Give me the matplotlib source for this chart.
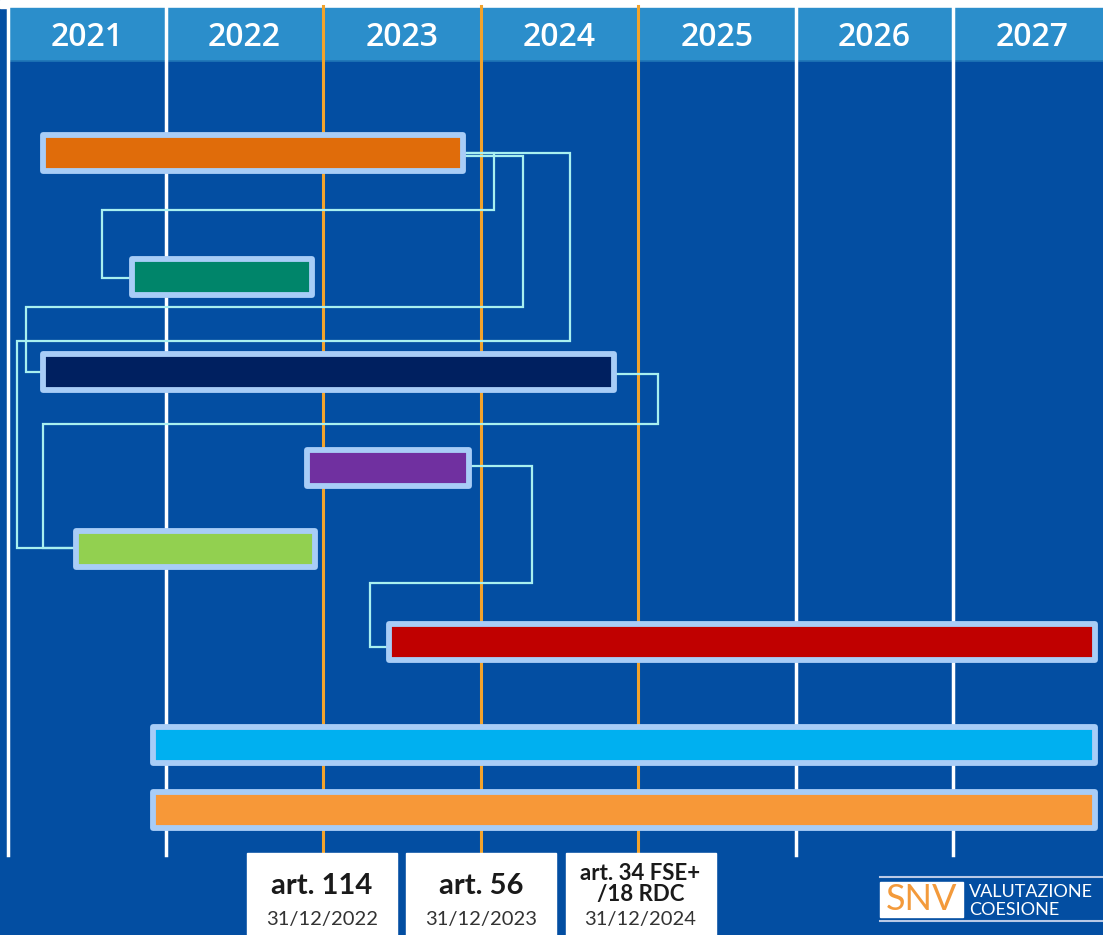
import matplotlib
matplotlib.use("Agg")
import matplotlib.pyplot as plt
from matplotlib.patches import Rectangle

# timeline data
years = [2021, 2022, 2023, 2024, 2025, 2026, 2027]
bar_start = [2021.22, 2021.79, 2021.22, 2022.90, 2021.43, 2023.42, 2021.92, 2021.92]
bar_end = [2023.89, 2022.93, 2024.85, 2023.93, 2022.95, 2027.90, 2027.90, 2027.90]
bar_colors = ["#E06C0A", "#00856A", "#002060", "#7030A0", "#92D050", "#C00000", "#00B0F0", "#F79838"]
links = [(0, 1), (0, 2), (0, 4), (2, 4), (3, 5)]
deadlines = [2023, 2024, 2025]
deadline_titles = ["art. 114", "art. 56", "art. 34 FSE+\n/18 RDC"]
deadline_dates = ["31/12/2022", "31/12/2023", "31/12/2024"]

# layout (pixels from top, year offsets)
row_y = [153, 277, 372, 468, 549, 642, 745, 810]
bar_h = 36
link_out = [0.194, 0.378, 0.676, 0.276, 0.397]
link_in = [-0.194, -0.105, -0.371, -0.206, -0.124]
link_mid = [210, 307, 341, 424, 583]
link_src_dy = [0, 3, 0, 2, -2]
link_dst_dy = [1, 0, -1, -1, 5]
box_shift = [-0.008, 0.004, 0.016]

BG = "#034EA2"
HEAD = "#2B8ECB"
EDGE = "#A8CDF7"
LINK = "#A8F0F0"
GOLD = "#F2A32C"

W, H = 1103, 935
yr_px = 157.5
fig = plt.figure(figsize=(W / 100, H / 100), dpi=100, facecolor=BG)
ax = fig.add_axes([0, 0, 1, 1])
ax.set_facecolor(BG)
ax.set_xlim(2021 - 8 / yr_px, 2021 + (W - 8) / yr_px)
ax.set_ylim(H, 0)
ax.axis("off")

def px(x):
    return 2021 + (x - 8) / yr_px

# header
ax.axhspan(0, 8, color="white", zorder=1)
ax.add_patch(Rectangle((px(8), 8), px(W) - px(8), 52, color=HEAD, zorder=1))
ax.plot([px(8), px(W)], [60.5, 60.5], color="#1F74B5", lw=1.2, zorder=1)
for y in years:
    ax.text(y + 0.5, 38, str(y), color="white", fontsize=23, family="Open Sans",
            fontweight="semibold", ha="center", va="center", zorder=3)

# grid lines
for y in years:
    if y in deadlines:
        ax.plot([y, y], [6, 855], color=GOLD, lw=2.2, zorder=2)
    else:
        ax.plot([y, y], [6, 855], color="white", lw=2.5, zorder=2)

# connectors
for i, (a, b) in enumerate(links):
    xo = bar_end[a] + link_out[i]
    xi = bar_start[b] + link_in[i]
    ys = row_y[a] + link_src_dy[i]
    yd = row_y[b] + link_dst_dy[i]
    ax.plot([bar_end[a], xo, xo, xi, xi, bar_start[b]],
            [ys, ys, link_mid[i], link_mid[i], yd, yd],
            color=LINK, lw=1.6, zorder=3, solid_joinstyle="miter")

# bars
widths = [e - s for s, e in zip(bar_start, bar_end)]
ax.barh(row_y, widths, left=bar_start, height=bar_h, color=bar_colors,
        edgecolor=EDGE, linewidth=4.2, zorder=4, joinstyle="round")

# deadline boxes
bw = 150 / yr_px
for d, t, s, sh in zip(deadlines, deadline_titles, deadline_dates, box_shift):
    cx = d + sh
    ax.add_patch(Rectangle((cx - bw / 2, 853), bw, 90, color="white", zorder=5))
    lines = t.split("\n")
    if len(lines) > 1:
        ax.text(cx, 873, lines[0], fontsize=16, fontweight="bold", family="Lato", color="#1A1A1A",
                ha="center", va="center", zorder=6)
        ax.text(cx, 894, lines[1], fontsize=16, fontweight="bold", family="Lato", color="#1A1A1A",
                ha="center", va="center", zorder=6)
    else:
        ax.text(cx, 886, t, fontsize=21, fontweight="bold", family="Lato", color="#1A1A1A",
                ha="center", va="center", zorder=6)
    ax.text(cx, 920, s, fontsize=14.5, family="Lato", color="#333333",
            ha="center", va="center", zorder=6)

# logo
ax.plot([px(880), px(1102)], [877, 877], color="#B9C9E6", lw=1.5, zorder=5)
ax.plot([px(880), px(1102)], [921, 921], color="#B9C9E6", lw=1.5, zorder=5)
ax.add_patch(Rectangle((px(880), 882), px(963) - px(880), 35, color="white", zorder=5))
ax.text(px(921.5), 900, "SNV", fontsize=26, family="Lato",
        color="#F39A3B", ha="center", va="center", zorder=6)
ax.text(px(969), 892, "VALUTAZIONE", fontsize=13, family="Lato", color="white",
        ha="left", va="center", zorder=6)
ax.text(px(969), 910, "COESIONE", fontsize=13, family="Lato", color="white",
        ha="left", va="center", zorder=6)

fig.savefig("out.png", dpi=100, facecolor=BG)
